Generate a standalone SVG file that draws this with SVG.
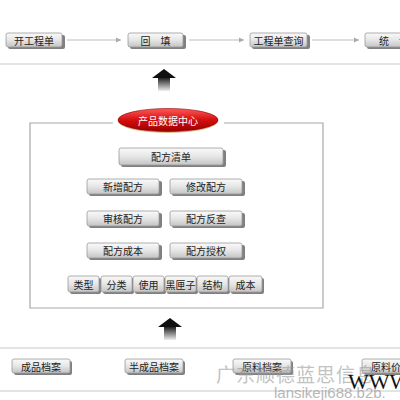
<svg xmlns="http://www.w3.org/2000/svg" width="400" height="400" viewBox="0 0 400 400">
<defs>
<linearGradient id="btn" x1="0" y1="0" x2="0" y2="1">
<stop offset="0" stop-color="#fafafa"/><stop offset="0.5" stop-color="#e6e6e6"/><stop offset="1" stop-color="#c4c4c4"/>
</linearGradient>
<linearGradient id="red" x1="0" y1="0" x2="0" y2="1">
<stop offset="0" stop-color="#ff5a5a"/><stop offset="0.5" stop-color="#d40e0e"/><stop offset="1" stop-color="#9a0000"/>
</linearGradient>
<linearGradient id="shaft" x1="0" y1="0" x2="0" y2="1">
<stop offset="0" stop-color="#222"/><stop offset="1" stop-color="#eee"/>
</linearGradient>
<marker id="ah" markerWidth="6" markerHeight="6" refX="5" refY="3" orient="auto" markerUnits="userSpaceOnUse">
<path d="M0,0.5 L5,3 L0,5.5 z" fill="#aaa"/>
</marker>
<g id="uparrow">
<rect x="-6" y="8" width="12" height="13" fill="url(#shaft)"/>
<path d="M-12,8 L0,-1 L12,8 z" fill="#111"/>
</g>
</defs>
<style>
.b rect.f{fill:url(#btn);stroke:#9a9a9a;stroke-width:0.8}
.b rect.s{fill:#555;opacity:0.75}
.b text{font-family:"Noto Sans CJK SC","Liberation Sans",sans-serif;font-size:10px;fill:#222;text-anchor:middle;dominant-baseline:central}
.ln{stroke:#c8c8c8;stroke-width:1;fill:none}
.cn{stroke:#bdbdbd;stroke-width:1;fill:none;marker-end:url(#ah)}
</style>
<rect width="400" height="400" fill="#fff"/>

<!-- separators -->
<line class="ln" x1="0" y1="64" x2="400" y2="64"/>
<line class="ln" x1="0" y1="348" x2="400" y2="348"/>
<line class="ln" x1="0" y1="391" x2="400" y2="391"/>

<!-- connectors -->
<g id="connectors">
<line class="cn" x1="67" y1="40" x2="121" y2="40"/>
<line class="cn" x1="189" y1="40" x2="244" y2="40"/>
<line class="cn" x1="312" y1="40" x2="359" y2="40"/>
<use href="#uparrow" x="164" y="70"/>
<use href="#uparrow" x="170" y="319"/>
</g>

<!-- top row -->
<g id="n-kaigong" class="b"><rect class="s" x="8" y="35" width="57" height="14" rx="2"/><rect class="f" x="6" y="33" width="56" height="14" rx="2"/><text x="34" y="40">开工程单</text></g>
<g id="n-huitian" class="b"><rect class="s" x="130" y="35" width="56" height="14" rx="2"/><rect class="f" x="128" y="33" width="55" height="14" rx="2"/><text x="155.5" y="40" xml:space="preserve">回　填</text></g>
<g id="n-chaxun" class="b"><rect class="s" x="252" y="35" width="58" height="14" rx="2"/><rect class="f" x="250" y="33" width="57" height="14" rx="2"/><text x="278.5" y="40">工程单查询</text></g>
<g id="n-tongji" class="b"><rect class="s" x="367" y="35" width="60" height="14" rx="2"/><rect class="f" x="365" y="33" width="58" height="14" rx="2"/><text x="394" y="40" xml:space="preserve">统　计</text></g>

<!-- panel -->
<g id="panel">
<path d="M113,123 L30,123 L30,308 L323,308 L323,123 L224,123" fill="none" stroke="#a8a8a8" stroke-width="1.2"/>
</g>
<g id="n-center">
<ellipse cx="168" cy="121" rx="50" ry="12" fill="#c98a3a" opacity="0.6"/>
<ellipse cx="168" cy="120" rx="50" ry="11.5" fill="url(#red)" stroke="#8a0000" stroke-width="0.6"/>
<text x="168" y="120" font-family="Noto Sans CJK SC,Liberation Sans,sans-serif" font-size="10" fill="#fff" text-anchor="middle" dominant-baseline="central">产品数据中心</text>
</g>

<g id="n-qingdan" class="b"><rect class="s" x="121" y="150" width="105" height="17" rx="2"/><rect class="f" x="119" y="148" width="104" height="17" rx="2"/><text x="171" y="156.5">配方清单</text></g>

<g id="n-xinzeng" class="b"><rect class="s" x="89" y="181" width="73" height="15" rx="2"/><rect class="f" x="87" y="179" width="72" height="15" rx="2"/><text x="123" y="186.5">新增配方</text></g>
<g id="n-xiugai" class="b"><rect class="s" x="172" y="181" width="73" height="15" rx="2"/><rect class="f" x="170" y="179" width="72" height="15" rx="2"/><text x="206" y="186.5">修改配方</text></g>

<g id="n-shenhe" class="b"><rect class="s" x="89" y="213" width="73" height="15" rx="2"/><rect class="f" x="87" y="211" width="72" height="15" rx="2"/><text x="123" y="218.5">审核配方</text></g>
<g id="n-fancha" class="b"><rect class="s" x="172" y="213" width="73" height="15" rx="2"/><rect class="f" x="170" y="211" width="72" height="15" rx="2"/><text x="206" y="218.5">配方反查</text></g>

<g id="n-chengben" class="b"><rect class="s" x="89" y="245" width="73" height="15" rx="2"/><rect class="f" x="87" y="243" width="72" height="15" rx="2"/><text x="123" y="250.5">配方成本</text></g>
<g id="n-shouquan" class="b"><rect class="s" x="172" y="245" width="73" height="15" rx="2"/><rect class="f" x="170" y="243" width="72" height="15" rx="2"/><text x="206" y="250.5">配方授权</text></g>

<g id="n-leixing" class="b"><rect class="s" x="70" y="278" width="31" height="16" rx="2"/><rect class="f" x="68" y="276" width="31" height="16" rx="2"/><text x="83.5" y="284">类型</text></g>
<g id="n-fenlei" class="b"><rect class="s" x="103" y="278" width="31" height="16" rx="2"/><rect class="f" x="101" y="276" width="31" height="16" rx="2"/><text x="116.5" y="284">分类</text></g>
<g id="n-shiyong" class="b"><rect class="s" x="135" y="278" width="31" height="16" rx="2"/><rect class="f" x="133" y="276" width="31" height="16" rx="2"/><text x="148.5" y="284">使用</text></g>
<g id="n-heixiazi" class="b"><rect class="s" x="167" y="278" width="31" height="16" rx="2"/><rect class="f" x="165" y="276" width="31" height="16" rx="2"/><text x="180.5" y="284">黑匣子</text></g>
<g id="n-jiegou" class="b"><rect class="s" x="199" y="278" width="31" height="16" rx="2"/><rect class="f" x="197" y="276" width="31" height="16" rx="2"/><text x="212.5" y="284">结构</text></g>
<g id="n-chengben2" class="b"><rect class="s" x="231" y="278" width="33" height="16" rx="2"/><rect class="f" x="229" y="276" width="33" height="16" rx="2"/><text x="245.5" y="284">成本</text></g>

<!-- bottom row -->
<g id="n-chengpin" class="b"><rect class="s" x="14" y="361" width="58" height="14" rx="2"/><rect class="f" x="12" y="359" width="58" height="14" rx="2"/><text x="41" y="366">成品档案</text></g>
<g id="n-banchengpin" class="b"><rect class="s" x="127" y="361" width="58" height="14" rx="2"/><rect class="f" x="125" y="359" width="58" height="14" rx="2"/><text x="154" y="366">半成品档案</text></g>
<g id="n-yuanliao" class="b"><rect class="s" x="235" y="361" width="58" height="14" rx="2"/><rect class="f" x="233" y="359" width="58" height="14" rx="2"/><text x="262" y="366">原料档案</text></g>
<g id="n-jiage" class="b"><rect class="s" x="364" y="361" width="58" height="14" rx="2"/><rect class="f" x="362" y="359" width="58" height="14" rx="2"/><text x="391" y="366">原料价格</text></g>

<!-- watermark -->
<g id="watermark">
<text x="216" y="382" font-family="Noto Sans CJK SC,sans-serif" font-size="19" fill="#9a9a9a" opacity="0.6" letter-spacing="1">广东顺德蓝思信息</text>
<text x="348" y="389" font-family="Liberation Serif,serif" font-size="22" fill="#111">WWW.</text>
<text x="274" y="398" font-family="Liberation Sans,sans-serif" font-size="15" fill="#9a9a9a" opacity="0.7">lansikeji688.b2b.</text>
</g>
</svg>
